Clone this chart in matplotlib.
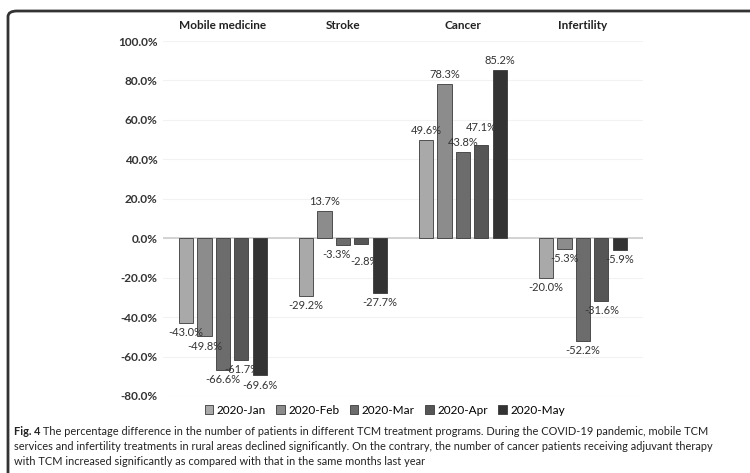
import numpy as np
import matplotlib.pyplot as plt
from matplotlib.patches import FancyBboxPatch

plt.rcParams['font.family'] = ['Lato', 'DejaVu Sans']

categorias = ['Mobile medicine', 'Stroke', 'Cancer', 'Infertility']
meses = ['2020-Jan', '2020-Feb', '2020-Mar', '2020-Apr', '2020-May']
valores = [
    [-43.0, -29.2, 49.6, -20.0],   # 2020-Jan
    [-49.8, 13.7, 78.3, -5.3],     # 2020-Feb
    [-66.6, -3.3, 43.8, -52.2],    # 2020-Mar
    [-61.7, -2.8, 47.1, -31.6],    # 2020-Apr
    [-69.6, -27.7, 85.2, -5.9],    # 2020-May
]
colores = ['#a9a9a9', '#8c8c8c', '#6c6c6c', '#565656', '#333333']

pie = ["The percentage difference in the number of patients in different TCM treatment programs. During the COVID-19 pandemic, mobile TCM",
       "services and infertility treatments in rural areas declined significantly. On the contrary, the number of cancer patients receiving adjuvant therapy",
       "with TCM increased significantly as compared with that in the same months last year"]

# pequeños desplazamientos de etiquetas (mes, categoria) -> puntos
ajustes = {(2, 1): (-5, 0), (3, 1): (2, -6), (3, 2): (0, 6)}

fig = plt.figure(figsize=(7.5, 4.73), dpi=100)
ax = fig.add_axes([0.2173, 0.1628, 0.64, 0.7505])

x = np.arange(len(categorias))
paso = 0.154
ancho = 0.117
for i, (mes, vals) in enumerate(zip(meses, valores)):
    pos = x + (i - 2) * paso
    ax.bar(pos, vals, width=ancho, color=colores[i], edgecolor='#3a3a3a',
           linewidth=0.6, label=mes, zorder=3)
    for j, (px, v) in enumerate(zip(pos, vals)):
        dx, dy = ajustes.get((i, j), (0, 0))
        ax.annotate(f'{v:.1f}%', (px, v), xytext=(dx, (3 if v > 0 else -3) + dy),
                    textcoords='offset points', ha='center',
                    va='bottom' if v > 0 else 'top', fontsize=8,
                    color='#333333', zorder=4)

ax.set_xlim(-0.5, 3.5)
ax.set_ylim(-80, 100)
ax.set_yticks(np.arange(-80, 101, 20))
ax.set_yticklabels([f'{t:.1f}%' for t in np.arange(-80, 101, 20)],
                   fontsize=8.5, fontweight='bold', color='#333333')
ax.tick_params(axis='y', length=0, pad=4)
ax.xaxis.tick_top()
ax.set_xticks(x)
ax.set_xticklabels(categorias, fontsize=8.5, fontweight='bold', color='#222222')
ax.tick_params(axis='x', length=0, pad=7)
ax.grid(axis='y', color='#f2f2f2', linewidth=0.8, zorder=0)
ax.axhline(0, color='#cccccc', linewidth=1.2, zorder=2)
for s in ax.spines.values():
    s.set_visible(False)

fig.legend(loc='center', bbox_to_anchor=(0.513, 0.133), ncol=5, frameon=False,
           handlelength=0.7, handleheight=0.7, handletextpad=0.3,
           columnspacing=0.9, prop={'size': 8.5})

# marco redondeado
marco = FancyBboxPatch((8 / 750, -0.05), 1.1, 1 - 11 / 473 + 0.05,
                       boxstyle='round,pad=0,rounding_size=0.012',
                       transform=fig.transFigure, facecolor='none',
                       edgecolor='#333333', linewidth=2, zorder=0)
fig.patches.append(marco)

ys = [1 - 431 / 473, 1 - 446 / 473, 1 - 461 / 473]
t = fig.text(14 / 750, ys[0], 'Fig. 4', fontsize=7.9, fontweight='bold',
             va='center', color='#222222')
ax.annotate(' ' + pie[0], xy=(1, 0.5), xycoords=t, va='center',
            fontsize=7.9, color='#222222', annotation_clip=False)
fig.text(14 / 750, ys[1], pie[1], fontsize=7.9, va='center', color='#222222')
fig.text(14 / 750, ys[2], pie[2], fontsize=7.9, va='center', color='#222222')

fig.savefig('out.png', dpi=100)
